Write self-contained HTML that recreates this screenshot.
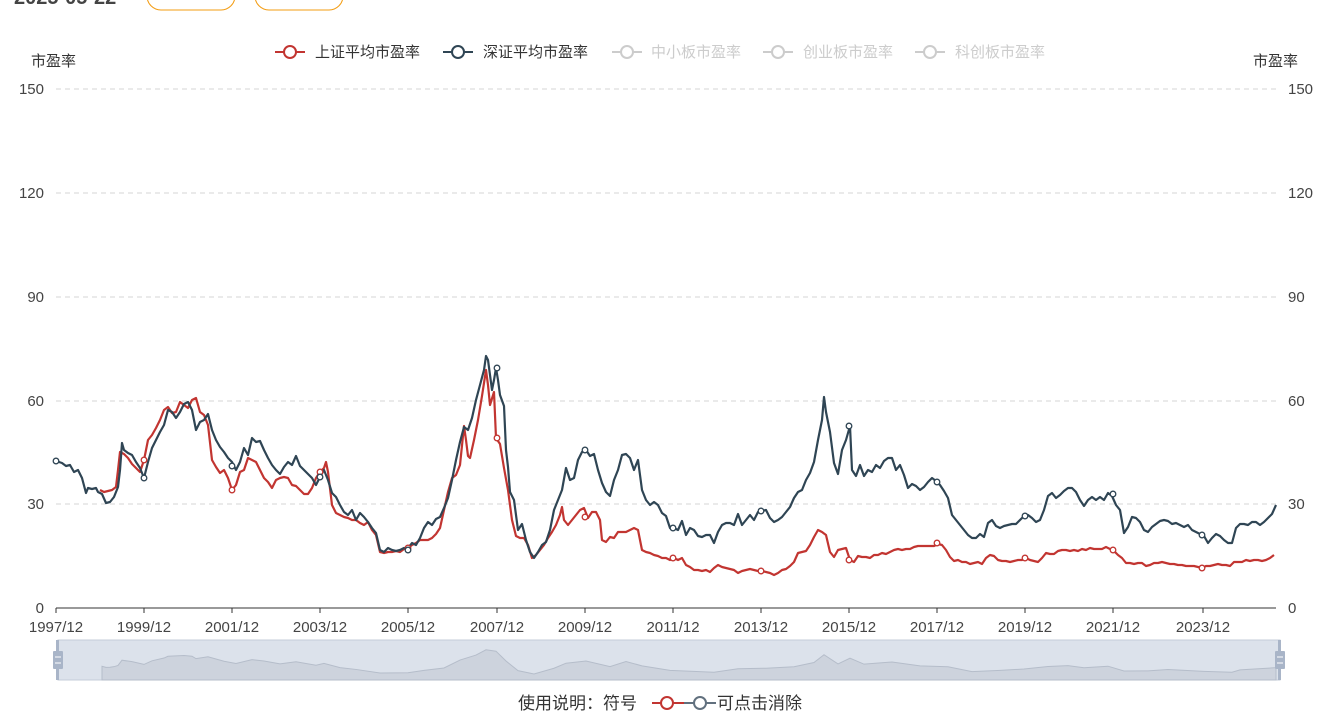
<!DOCTYPE html>
<html><head><meta charset="utf-8"><style>
body{margin:0;background:#fff;width:1330px;height:711px;overflow:hidden;font-family:"Liberation Sans","Noto Sans CJK SC",sans-serif;}
</style></head><body>
<svg width="1330" height="711" xmlns="http://www.w3.org/2000/svg" font-family="Liberation Sans, Noto Sans CJK SC, sans-serif">
<text x="14" y="4" font-size="20" fill="#444" font-weight="bold">2025-05-22</text>
<rect x="147" y="-20" width="88" height="30" rx="14" fill="none" stroke="#f39c12"/>
<rect x="255" y="-20" width="88" height="30" rx="14" fill="none" stroke="#f39c12"/>
<g font-size="15">
<line x1="275" y1="52" x2="305" y2="52" stroke="#c23531" stroke-width="2"/><circle cx="290" cy="52" r="6" fill="#fff" stroke="#c23531" stroke-width="2"/><text x="315" y="57" fill="#333">上证平均市盈率</text>
<line x1="443" y1="52" x2="473" y2="52" stroke="#2f4554" stroke-width="2"/><circle cx="458" cy="52" r="6" fill="#fff" stroke="#2f4554" stroke-width="2"/><text x="483" y="57" fill="#333">深证平均市盈率</text>
<line x1="612" y1="52" x2="642" y2="52" stroke="#ccc" stroke-width="2"/><circle cx="627" cy="52" r="6" fill="#fff" stroke="#ccc" stroke-width="2"/><text x="651" y="57" fill="#ccc">中小板市盈率</text>
<line x1="763" y1="52" x2="793" y2="52" stroke="#ccc" stroke-width="2"/><circle cx="778" cy="52" r="6" fill="#fff" stroke="#ccc" stroke-width="2"/><text x="803" y="57" fill="#ccc">创业板市盈率</text>
<line x1="915" y1="52" x2="945" y2="52" stroke="#ccc" stroke-width="2"/><circle cx="930" cy="52" r="6" fill="#fff" stroke="#ccc" stroke-width="2"/><text x="955" y="57" fill="#ccc">科创板市盈率</text>
</g>
<text x="31" y="66" font-size="15" fill="#333">市盈率</text>
<text x="1253" y="66" font-size="15" fill="#333">市盈率</text>
<g stroke="#ddd" stroke-dasharray="5,4" stroke-width="1.3">
<line x1="56" y1="89" x2="1276" y2="89"/><line x1="56" y1="193" x2="1276" y2="193"/><line x1="56" y1="297" x2="1276" y2="297"/><line x1="56" y1="401" x2="1276" y2="401"/><line x1="56" y1="504" x2="1276" y2="504"/>
</g>
<line x1="56" y1="608" x2="1276" y2="608" stroke="#333" stroke-width="1"/>
<g font-size="15" fill="#444" text-anchor="end">
<text x="44" y="94">150</text><text x="44" y="198">120</text><text x="44" y="302">90</text><text x="44" y="406">60</text><text x="44" y="509">30</text><text x="44" y="613">0</text>
</g>
<g font-size="15" fill="#444">
<text x="1288" y="94">150</text><text x="1288" y="198">120</text><text x="1288" y="302">90</text><text x="1288" y="406">60</text><text x="1288" y="509">30</text><text x="1288" y="613">0</text>
</g>
<g stroke="#333"><line x1="56" y1="608" x2="56" y2="613"/><line x1="144" y1="608" x2="144" y2="613"/><line x1="232" y1="608" x2="232" y2="613"/><line x1="320" y1="608" x2="320" y2="613"/><line x1="408" y1="608" x2="408" y2="613"/><line x1="497" y1="608" x2="497" y2="613"/><line x1="585" y1="608" x2="585" y2="613"/><line x1="673" y1="608" x2="673" y2="613"/><line x1="761" y1="608" x2="761" y2="613"/><line x1="849" y1="608" x2="849" y2="613"/><line x1="937" y1="608" x2="937" y2="613"/><line x1="1025" y1="608" x2="1025" y2="613"/><line x1="1113" y1="608" x2="1113" y2="613"/><line x1="1203" y1="608" x2="1203" y2="613"/></g>
<g font-size="15" fill="#444" text-anchor="middle">
<text x="56" y="632">1997/12</text><text x="144" y="632">1999/12</text><text x="232" y="632">2001/12</text><text x="320" y="632">2003/12</text><text x="408" y="632">2005/12</text><text x="497" y="632">2007/12</text><text x="585" y="632">2009/12</text><text x="673" y="632">2011/12</text><text x="761" y="632">2013/12</text><text x="849" y="632">2015/12</text><text x="937" y="632">2017/12</text><text x="1025" y="632">2019/12</text><text x="1113" y="632">2021/12</text><text x="1203" y="632">2023/12</text>
</g>
<polyline fill="none" stroke="#c23531" stroke-width="2.2" stroke-linejoin="round" points="100,490 104,492 108,491 112,490 116,487 118,470 120,452 124,454 128,458 132,464 136,468 140,472 144,460 148,440 152,435 156,428 160,420 164,410 168,407 172,413 176,412 180,402 184,405 188,408 192,400 196,398 200,412 204,415 208,425 212,460 216,467 220,473 224,470 228,478 232,490 236,485 240,472 244,470 248,458 252,460 256,462 260,470 264,478 268,482 272,488 276,480 280,478 284,477 288,478 292,485 296,486 300,490 304,494 308,494 312,488 316,478 320,472 324,468 326,462 328,472 332,505 336,513 340,515 344,517 348,518 352,520 356,520 360,523 364,525 368,522 372,530 376,535 380,552 384,553 388,552 392,552 396,551 400,552 404,549 408,548 412,545 416,543 420,540 424,540 428,540 432,538 436,534 440,528 444,510 448,492 452,478 456,475 460,465 464,426 466,440 468,456 470,458 474,440 478,420 482,396 486,370 488,385 490,405 494,392 496,438 500,444 504,468 508,490 512,520 516,536 520,538 524,538 528,545 532,558 536,555 540,550 544,545 548,538 552,532 556,525 560,515 562,507 564,520 568,525 572,520 576,515 580,510 584,508 588,518 592,512 596,512 600,520 602,540 606,542 610,537 614,538 618,532 622,532 626,532 630,530 634,528 638,530 642,550 646,552 650,553 654,555 658,556 662,558 666,558 670,560 674,558 678,560 682,558 686,565 690,567 694,570 698,570 702,571 706,570 710,572 714,568 718,565 722,567 726,568 730,569 734,570 738,573 742,571 746,570 750,569 754,570 758,571 762,571 766,572 770,573 774,575 778,573 782,570 786,569 790,566 794,562 798,553 802,552 806,551 810,545 814,537 818,530 822,532 826,535 830,552 834,557 838,550 842,549 846,548 850,560 854,562 858,556 862,557 866,557 870,558 874,555 878,555 882,553 886,554 890,552 894,550 898,549 902,550 906,549 910,549 914,547 918,546 922,546 926,546 930,546 934,546 938,544 942,545 946,550 950,557 954,561 958,560 962,562 966,562 970,564 974,563 978,562 982,564 986,558 990,555 994,556 998,560 1002,561 1006,561 1010,562 1014,561 1018,560 1022,560 1026,558 1030,560 1034,561 1038,562 1042,558 1046,553 1050,554 1054,554 1058,551 1062,550 1066,550 1070,551 1074,550 1078,551 1082,549 1086,550 1090,548 1094,549 1098,549 1102,549 1106,547 1110,549 1114,551 1118,555 1122,558 1126,563 1130,563 1134,564 1138,563 1142,563 1146,566 1150,565 1154,563 1158,563 1162,562 1166,563 1170,564 1174,564 1178,565 1182,565 1186,566 1190,566 1194,566 1198,567 1202,568 1206,566 1210,566 1214,565 1218,564 1222,565 1226,565 1230,566 1234,562 1238,562 1242,562 1246,560 1250,561 1254,560 1258,560 1262,561 1266,560 1270,558 1274,555"/>
<polyline fill="none" stroke="#2f4554" stroke-width="2.2" stroke-linejoin="round" points="56,461 62,463 66,466 70,465 74,472 78,470 82,478 86,493 88,488 92,489 96,488 98,492 102,494 106,503 110,502 114,497 118,487 120,470 122,443 124,450 128,453 132,455 136,462 140,468 144,478 148,462 152,448 156,440 160,432 164,425 168,410 172,412 176,418 180,412 184,404 188,402 192,410 196,430 200,422 204,420 208,414 212,430 216,440 220,447 224,452 228,458 232,462 236,470 240,462 244,448 248,455 252,438 256,442 260,441 264,450 268,458 272,465 276,470 280,474 284,467 288,462 292,465 296,456 300,466 304,470 308,474 312,478 316,485 320,477 324,470 328,480 332,493 336,497 340,505 344,512 348,515 352,510 356,520 360,513 364,517 368,522 372,528 376,533 380,550 384,552 388,548 392,550 396,551 400,550 404,548 408,548 412,543 416,545 420,538 424,528 428,522 432,525 436,519 440,517 444,508 448,498 452,480 456,460 460,442 464,427 468,430 472,418 476,400 480,385 484,370 486,356 488,360 490,375 492,390 494,380 496,368 498,380 500,395 504,406 506,450 508,467 510,492 514,500 518,530 522,524 526,540 530,552 534,558 538,552 542,545 546,542 550,530 554,510 558,500 562,490 566,468 570,480 574,478 578,460 582,452 586,450 590,456 594,454 598,470 602,483 606,492 610,496 614,480 618,470 622,455 626,454 630,458 634,470 638,460 642,490 646,500 650,505 654,502 658,505 662,513 666,516 670,528 674,528 678,530 682,521 686,535 690,528 694,530 698,536 702,537 706,535 710,535 714,543 718,532 722,525 726,523 730,523 734,525 738,514 742,525 746,520 750,515 754,520 758,512 762,511 766,510 770,518 774,522 778,520 782,517 786,512 790,507 794,498 798,492 802,490 806,480 810,473 814,462 818,440 822,420 824,397 826,412 830,432 834,463 838,474 842,450 846,440 850,426 852,470 856,476 860,465 864,476 868,470 872,472 876,465 880,468 884,461 888,458 892,458 896,470 900,465 904,475 908,488 912,484 916,486 920,490 924,487 928,482 932,478 936,481 940,485 944,491 948,498 952,515 956,520 960,525 964,530 968,535 972,538 976,538 980,534 984,537 988,523 992,520 996,526 1000,528 1004,526 1008,525 1012,524 1016,524 1020,520 1024,516 1028,515 1032,518 1036,522 1040,520 1044,510 1048,496 1052,493 1056,498 1060,495 1064,491 1068,488 1072,488 1076,492 1080,500 1084,506 1088,500 1092,497 1096,500 1100,497 1104,500 1108,493 1112,496 1116,505 1120,510 1124,533 1128,527 1132,517 1136,518 1140,522 1144,530 1148,532 1152,527 1156,524 1160,521 1164,520 1168,521 1172,524 1176,523 1180,525 1184,527 1188,525 1192,530 1196,532 1200,534 1204,536 1208,543 1212,538 1216,534 1220,536 1224,540 1228,543 1232,543 1236,528 1240,524 1244,524 1248,525 1252,522 1256,522 1260,525 1264,522 1268,518 1272,514 1276,505"/>
<g fill="#fff" stroke-width="1.3">
<g stroke="#c23531"><circle cx="144" cy="460" r="2.8"/><circle cx="232" cy="490" r="2.8"/><circle cx="320" cy="472" r="2.8"/><circle cx="408" cy="548" r="2.8"/><circle cx="497" cy="438" r="2.8"/><circle cx="585" cy="517" r="2.8"/><circle cx="673" cy="558" r="2.8"/><circle cx="761" cy="571" r="2.8"/><circle cx="849" cy="560" r="2.8"/><circle cx="937" cy="543" r="2.8"/><circle cx="1025" cy="558" r="2.8"/><circle cx="1113" cy="550" r="2.8"/><circle cx="1202" cy="568" r="2.8"/></g>
<g stroke="#2f4554"><circle cx="56" cy="461" r="2.8"/><circle cx="144" cy="478" r="2.8"/><circle cx="232" cy="466" r="2.8"/><circle cx="320" cy="477" r="2.8"/><circle cx="408" cy="550" r="2.8"/><circle cx="497" cy="368" r="2.8"/><circle cx="585" cy="450" r="2.8"/><circle cx="673" cy="528" r="2.8"/><circle cx="761" cy="511" r="2.8"/><circle cx="849" cy="426" r="2.8"/><circle cx="937" cy="482" r="2.8"/><circle cx="1025" cy="516" r="2.8"/><circle cx="1113" cy="494" r="2.8"/><circle cx="1202" cy="535" r="2.8"/></g>
</g>
<rect x="58" y="640" width="1222" height="40" fill="#dce2eb" stroke="#c5ccd8"/>
<g transform="translate(0,680) scale(1,0.12) translate(0,-608)">
<polygon fill="#cdd3dd" stroke="#b5bdca" stroke-width="1" vector-effect="non-scaling-stroke" points="102,608 102,494 106,503 110,502 114,497 118,487 122,443 132,455 144,478 152,448 164,425 168,410 184,404 192,410 196,430 208,414 224,452 236,470 252,438 264,450 280,474 296,456 316,485 324,470 340,505 356,520 380,550 408,548 424,528 444,508 460,442 476,400 486,356 496,368 506,450 518,530 534,558 554,510 566,468 586,450 610,496 626,454 642,490 670,528 714,543 738,514 766,510 794,498 814,462 824,397 838,474 850,426 864,476 892,458 920,490 948,498 972,538 1000,528 1024,516 1048,496 1068,488 1084,506 1108,493 1124,533 1148,532 1168,521 1204,536 1232,543 1240,524 1276,505 1276,608"/>
</g>
<rect x="56" y="640" width="3" height="40" fill="#a9b5c8"/>
<rect x="53" y="651" width="10" height="18" rx="1" fill="#a9b5c8"/><line x1="55" y1="657" x2="61" y2="657" stroke="#fff"/><line x1="55" y1="663" x2="61" y2="663" stroke="#fff"/>
<rect x="1278" y="640" width="3" height="40" fill="#a9b5c8"/>
<rect x="1275" y="651" width="10" height="18" rx="1" fill="#a9b5c8"/><line x1="1277" y1="657" x2="1283" y2="657" stroke="#fff"/><line x1="1277" y1="663" x2="1283" y2="663" stroke="#fff"/>
<text x="518" y="709" font-size="17" fill="#333">使用说明：符号</text>
<line x1="652" y1="703" x2="684" y2="703" stroke="#c23531" stroke-width="2"/><circle cx="667" cy="703" r="6" fill="#fff" stroke="#c23531" stroke-width="2"/>
<line x1="684" y1="703" x2="716" y2="703" stroke="#61707e" stroke-width="2"/><circle cx="700" cy="703" r="6" fill="#fff" stroke="#61707e" stroke-width="2"/>
<text x="717" y="709" font-size="17" fill="#333">可点击消除</text>
</svg>
</body></html>
